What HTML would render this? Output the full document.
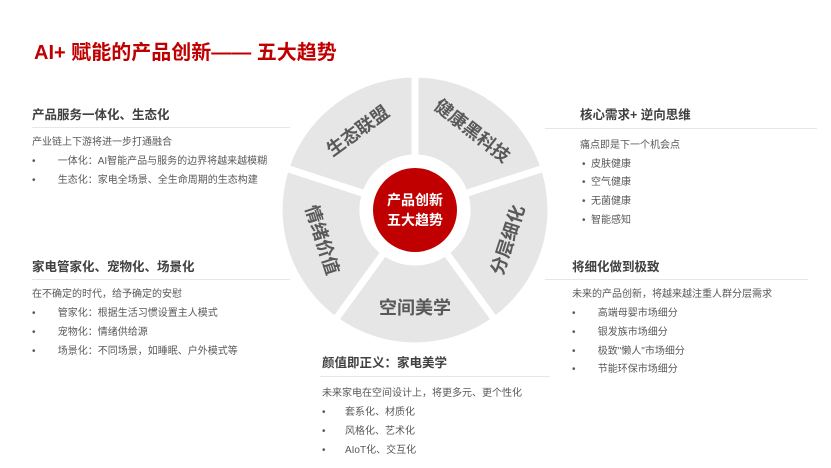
<!DOCTYPE html>
<html><head><meta charset="utf-8"><style>
body{margin:0;width:831px;height:468px;background:#fff;position:relative;overflow:hidden;font-family:"Liberation Sans","Noto Sans CJK SC",sans-serif;}
.a{position:absolute;white-space:nowrap;}
.t{font-size:12.5px;font-weight:bold;color:#404040;}
.b{font-size:10px;color:#595959;}
.ln{position:absolute;height:1px;background:#e6e6ec;}
</style></head><body>
<div class="a" style="left:34px;top:36px;font-size:20px;font-weight:bold;color:#c00000;">AI+ 赋能的产品创新—— 五大趋势</div>

<div class="a t" style="left:32px;top:104px;">产品服务一体化、生态化</div>
<div class="ln" style="left:32px;top:127px;width:258px;"></div>
<div class="a b" style="left:32px;top:133px;">产业链上下游将进一步打通融合</div>
<div class="a b" style="left:32px;top:152px;">•&nbsp;&nbsp;&nbsp;&nbsp;&nbsp;&nbsp;&nbsp;&nbsp;一体化：AI智能产品与服务的边界将越来越模糊</div>
<div class="a b" style="left:32px;top:171px;">•&nbsp;&nbsp;&nbsp;&nbsp;&nbsp;&nbsp;&nbsp;&nbsp;生态化：家电全场景、全生命周期的生态构建</div>

<div class="a t" style="left:32px;top:256px;">家电管家化、宠物化、场景化</div>
<div class="ln" style="left:32px;top:279px;width:258px;"></div>
<div class="a b" style="left:32px;top:285px;">在不确定的时代，给予确定的安慰</div>
<div class="a b" style="left:32px;top:304px;">•&nbsp;&nbsp;&nbsp;&nbsp;&nbsp;&nbsp;&nbsp;&nbsp;管家化：根据生活习惯设置主人模式</div>
<div class="a b" style="left:32px;top:323px;">•&nbsp;&nbsp;&nbsp;&nbsp;&nbsp;&nbsp;&nbsp;&nbsp;宠物化：情绪供给源</div>
<div class="a b" style="left:32px;top:342px;">•&nbsp;&nbsp;&nbsp;&nbsp;&nbsp;&nbsp;&nbsp;&nbsp;场景化：不同场景，如睡眠、户外模式等</div>

<div class="a t" style="left:580px;top:104px;">核心需求+ 逆向思维</div>
<div class="ln" style="left:545px;top:128px;width:272px;"></div>
<div class="a b" style="left:580px;top:136px;">痛点即是下一个机会点</div>
<div class="a b" style="left:582px;top:155px;">• &nbsp;皮肤健康</div>
<div class="a b" style="left:582px;top:173px;">• &nbsp;空气健康</div>
<div class="a b" style="left:582px;top:192px;">• &nbsp;无菌健康</div>
<div class="a b" style="left:582px;top:211px;">• &nbsp;智能感知</div>

<div class="a t" style="left:572px;top:256px;">将细化做到极致</div>
<div class="ln" style="left:545px;top:279px;width:263px;"></div>
<div class="a b" style="left:572px;top:285px;">未来的产品创新，将越来越注重人群分层需求</div>
<div class="a b" style="left:572px;top:304px;">•&nbsp;&nbsp;&nbsp;&nbsp;&nbsp;&nbsp;&nbsp;&nbsp;高端母婴市场细分</div>
<div class="a b" style="left:572px;top:323px;">•&nbsp;&nbsp;&nbsp;&nbsp;&nbsp;&nbsp;&nbsp;&nbsp;银发族市场细分</div>
<div class="a b" style="left:572px;top:342px;">•&nbsp;&nbsp;&nbsp;&nbsp;&nbsp;&nbsp;&nbsp;&nbsp;极致"懒人"市场细分</div>
<div class="a b" style="left:572px;top:360px;">•&nbsp;&nbsp;&nbsp;&nbsp;&nbsp;&nbsp;&nbsp;&nbsp;节能环保市场细分</div>

<div class="a t" style="left:322px;top:352px;">颜值即正义：家电美学</div>
<div class="ln" style="left:320px;top:376px;width:230px;"></div>
<div class="a b" style="left:322px;top:384px;">未来家电在空间设计上，将更多元、更个性化</div>
<div class="a b" style="left:322px;top:403px;">•&nbsp;&nbsp;&nbsp;&nbsp;&nbsp;&nbsp;&nbsp;套系化、材质化</div>
<div class="a b" style="left:322px;top:422px;">•&nbsp;&nbsp;&nbsp;&nbsp;&nbsp;&nbsp;&nbsp;风格化、艺术化</div>
<div class="a b" style="left:322px;top:441px;">•&nbsp;&nbsp;&nbsp;&nbsp;&nbsp;&nbsp;&nbsp;AIoT化、交互化</div>

<svg width="831" height="468" style="position:absolute;left:0;top:0">
<g fill="#e6e6e6" stroke="#fff" stroke-width="7" stroke-linejoin="miter">
<path d="M415,158 L415,74 A136,136 0 0 1 544.3,168 L464.5,193.9 A52,52 0 0 0 415,158 Z"/>
<path d="M464.5,193.9 L544.3,168 A136,136 0 0 1 494.9,320 L445.6,252.1 A52,52 0 0 0 464.5,193.9 Z"/>
<path d="M445.6,252.1 L494.9,320 A136,136 0 0 1 335.1,320 L384.4,252.1 A52,52 0 0 0 445.6,252.1 Z"/>
<path d="M384.4,252.1 L335.1,320 A136,136 0 0 1 285.7,168 L365.5,193.9 A52,52 0 0 0 384.4,252.1 Z"/>
<path d="M365.5,193.9 L285.7,168 A136,136 0 0 1 415,74 L415,158 A52,52 0 0 0 365.5,193.9 Z"/>
</g>
<circle cx="415" cy="210" r="42" fill="#c00000"/>
<g font-family="Liberation Sans, Noto Sans CJK SC, sans-serif" font-weight="bold" font-size="18" fill="#595959" text-anchor="middle" dominant-baseline="central">
<text transform="translate(358,131) rotate(-36)">生态联盟</text>
<text transform="translate(472,131) rotate(38)">健康黑科技</text>
<text transform="translate(508,240) rotate(-72)">分层细化</text>
<text transform="translate(415,308)">空间美学</text>
<text transform="translate(322,240) rotate(72)">情绪价值</text>
</g>
<g font-family="Liberation Sans, Noto Sans CJK SC, sans-serif" font-weight="bold" font-size="14" fill="#fff" text-anchor="middle">
<text x="415" y="205">产品创新</text>
<text x="415" y="225">五大趋势</text>
</g>
</svg>
</body></html>
